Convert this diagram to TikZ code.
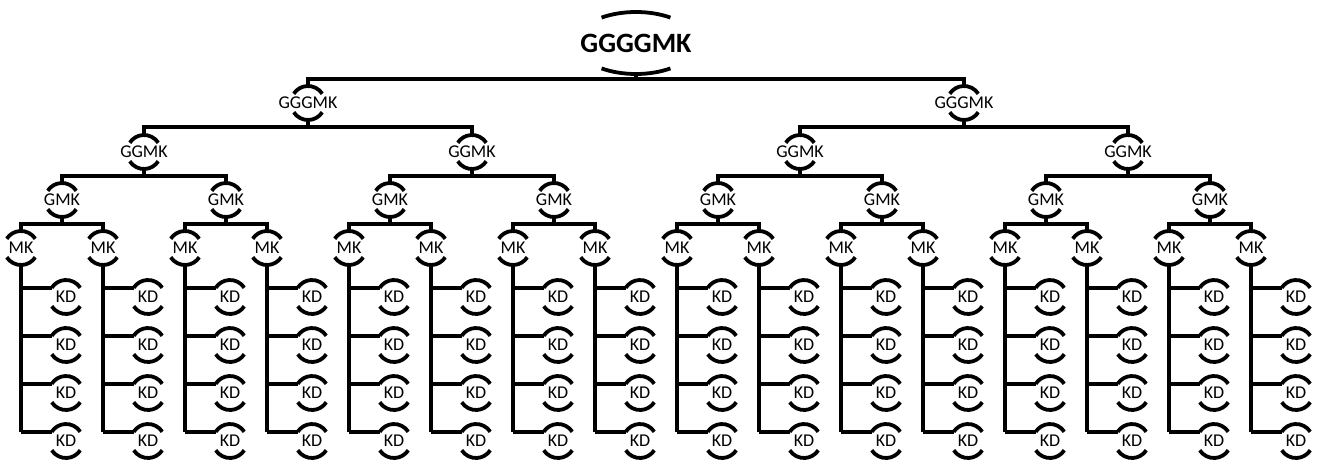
\documentclass[tikz,border=0pt]{standalone}
\usepackage{fontspec}
\setmainfont{Carlito}
\begin{document}
\begin{tikzpicture}[x=1pt,y=1pt,
  lbl/.style={inner sep=0pt,minimum height=34pt,font=\fontsize{18}{21}\selectfont},
  rootlbl/.style={inner sep=0pt,minimum height=62pt,font=\bfseries\fontsize{28}{32}\selectfont},
  bar/.style={line width=4pt},
  arcline/.style={line width=3.8pt}]
\useasboundingbox (0,0) rectangle (1319,-466);
\newcommand\nodearcs[1]{%
  \draw[arcline] ([shift={(33:17)}]#1.center) arc[start angle=33,end angle=147,radius=17];
  \draw[arcline] ([shift={(213:17)}]#1.center) arc[start angle=213,end angle=327,radius=17];}
% bar levels
\coordinate (ya) at (0,-79);
\coordinate (yb) at (0,-127);
\coordinate (yc) at (0,-176);
\coordinate (yd) at (0,-224);
% root
\node[rootlbl] (r) at (636,-43) {GGGGMK};
\draw[arcline] ([shift={(55:60 and 31)}]r.center) arc[start angle=55,end angle=125,x radius=60,y radius=31];
\draw[arcline] ([shift={(235:60 and 31)}]r.center) arc[start angle=235,end angle=305,x radius=60,y radius=31];
% level 1
\node[lbl] (ga0) at (308,-103) {GGGMK}; \nodearcs{ga0}
\node[lbl] (ga1) at (964,-103) {GGGMK}; \nodearcs{ga1}
% level 2
\foreach \k in {0,...,3} {
  \node[lbl] (gb\k) at (144+328*\k,-152) {GGMK};
  \nodearcs{gb\k}
}
% level 3
\foreach \j in {0,...,7} {
  \node[lbl] (gc\j) at (62+164*\j,-200) {GMK};
  \nodearcs{gc\j}
}
% level 4 and leaves
\foreach \i in {0,...,15} {
  \node[lbl] (m\i) at (21+82*\i,-248) {MK};
  \nodearcs{m\i}
  \foreach \n in {0,...,3} {
    \node[lbl] (k\i-\n) at (66+82*\i,-297-48*\n) {KD};
    \nodearcs{k\i-\n}
    \coordinate (kl\i-\n) at ([shift={(147:17)}]k\i-\n.center);
    \draw[bar] (m\i.south |- kl\i-\n) -- (kl\i-\n);
  }
  \draw[bar] (m\i.south) -- (m\i.south |- kl\i-3);
}
% connectors
\draw[bar] (r.south) -- (r.south |- ya);
\draw[bar] (ga0.north) |- (ga1.north |- ya) -- (ga1.north);
\foreach \j in {0,1} {
  \pgfmathtruncatemacro\ca{2*\j}
  \pgfmathtruncatemacro\cb{2*\j+1}
  \draw[bar] (ga\j.south) -- (ga\j.south |- yb);
  \draw[bar] (gb\ca.north) |- (gb\cb.north |- yb) -- (gb\cb.north);
}
\foreach \j in {0,...,3} {
  \pgfmathtruncatemacro\ca{2*\j}
  \pgfmathtruncatemacro\cb{2*\j+1}
  \draw[bar] (gb\j.south) -- (gb\j.south |- yc);
  \draw[bar] (gc\ca.north) |- (gc\cb.north |- yc) -- (gc\cb.north);
}
\foreach \j in {0,...,7} {
  \pgfmathtruncatemacro\ca{2*\j}
  \pgfmathtruncatemacro\cb{2*\j+1}
  \draw[bar] (gc\j.south) -- (gc\j.south |- yd);
  \draw[bar] (m\ca.north) |- (m\cb.north |- yd) -- (m\cb.north);
}
\end{tikzpicture}
\end{document}
